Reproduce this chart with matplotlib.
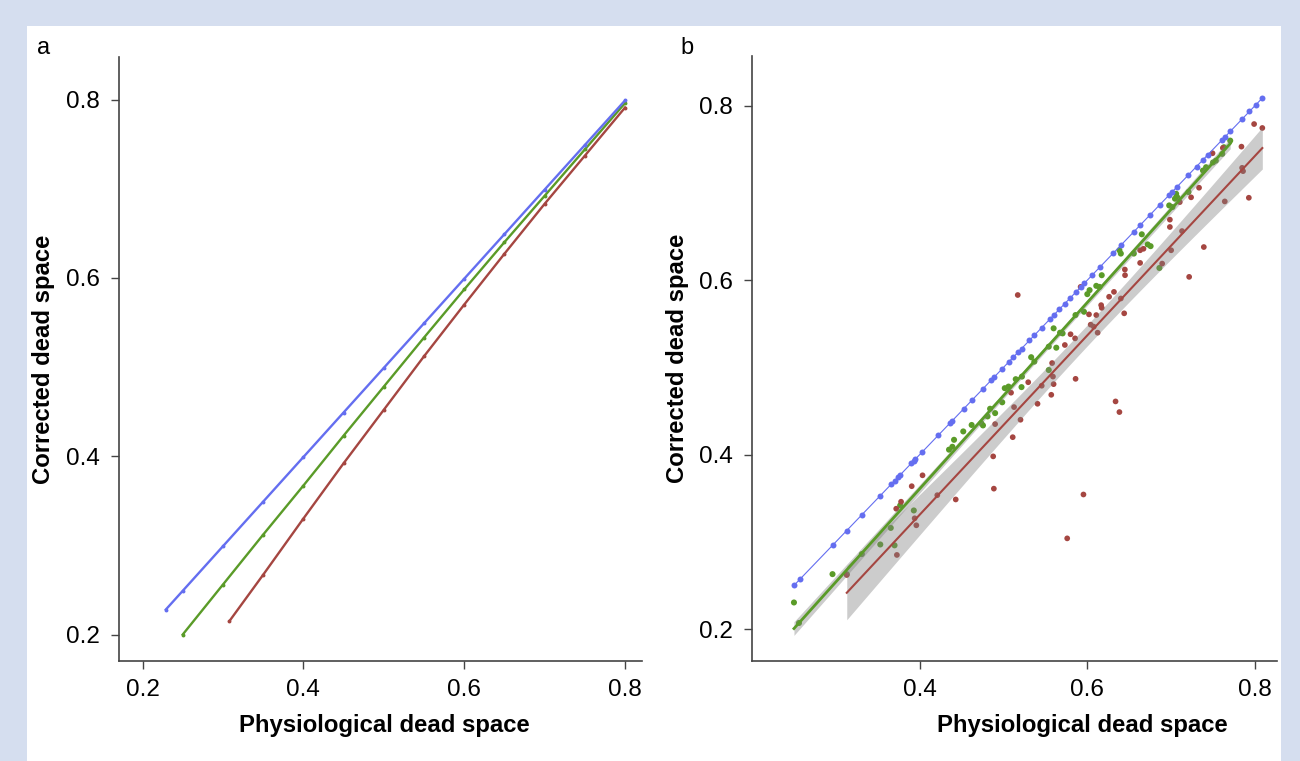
import numpy as np
import matplotlib
matplotlib.use("Agg")
import matplotlib.pyplot as plt
from matplotlib.patches import Rectangle

plt.rcParams['font.family'] = ['Liberation Sans', 'DejaVu Sans']

# panel a: model curves
blue_a_x = [0.229, 0.25, 0.30, 0.35, 0.40, 0.45, 0.50, 0.55, 0.60, 0.65, 0.70, 0.75, 0.80]
blue_a_y = [0.228, 0.249, 0.299, 0.349, 0.399, 0.449, 0.499, 0.549, 0.599, 0.649, 0.699, 0.749, 0.799]
green_a_x = [0.250, 0.30, 0.35, 0.40, 0.45, 0.50, 0.55, 0.60, 0.65, 0.70, 0.75, 0.80]
green_a_y = [0.200, 0.256, 0.312, 0.367, 0.423, 0.478, 0.533, 0.587, 0.640, 0.692, 0.744, 0.796]
red_a_x = [0.308, 0.35, 0.40, 0.45, 0.50, 0.55, 0.60, 0.65, 0.70, 0.75, 0.80]
red_a_y = [0.215, 0.267, 0.330, 0.392, 0.452, 0.512, 0.570, 0.627, 0.683, 0.737, 0.791]

# panel b: patient data
blue_b_x = [0.250, 0.257, 0.296, 0.313, 0.331, 0.353, 0.366, 0.370, 0.374, 0.377, 0.390, 0.393,
            0.395, 0.403, 0.422, 0.436, 0.439, 0.4525, 0.463, 0.4755, 0.485, 0.4886, 0.4985,
            0.506, 0.5115, 0.5176, 0.5215, 0.531, 0.5368, 0.5456, 0.556, 0.5598, 0.5667, 0.5732,
            0.579, 0.5866, 0.592, 0.5962, 0.6057, 0.6153, 0.6307, 0.6402, 0.6555, 0.6632, 0.6747,
            0.6862, 0.6977, 0.7015, 0.7073, 0.7207, 0.7303, 0.738, 0.7437, 0.761, 0.7641, 0.7705,
            0.7847, 0.7935, 0.8011, 0.8088]
blue_b_y = [0.250, 0.257, 0.296, 0.313, 0.331, 0.353, 0.366, 0.370, 0.374, 0.377, 0.390, 0.393,
            0.395, 0.403, 0.422, 0.436, 0.439, 0.4525, 0.463, 0.4755, 0.485, 0.4886, 0.4985,
            0.506, 0.5115, 0.5176, 0.5215, 0.531, 0.5368, 0.5456, 0.556, 0.5598, 0.5667, 0.5732,
            0.579, 0.5866, 0.592, 0.5962, 0.6057, 0.6153, 0.6307, 0.6402, 0.6555, 0.6632, 0.6747,
            0.6862, 0.6977, 0.7015, 0.7073, 0.7207, 0.7303, 0.738, 0.7437, 0.761, 0.7641, 0.7705,
            0.7847, 0.7935, 0.8011, 0.8088]

green_b_x = [0.250, 0.256, 0.296, 0.313, 0.331, 0.353, 0.3655, 0.370, 0.3767, 0.393, 0.435,
             0.439, 0.441, 0.452, 0.462, 0.4735, 0.4755, 0.481, 0.484, 0.490, 0.4985, 0.5015,
             0.506, 0.5146, 0.5215, 0.522, 0.533, 0.5368, 0.554, 0.563, 0.5598, 0.5675, 0.5705,
             0.554, 0.5859, 0.596, 0.600, 0.6027, 0.6107, 0.6146, 0.6172, 0.6383, 0.640, 0.6555,
             0.665, 0.672, 0.6755, 0.686, 0.6977, 0.7015, 0.706, 0.7046, 0.7073, 0.7207, 0.738,
             0.7417, 0.750, 0.7533, 0.761, 0.763, 0.7705]
green_b_y = [0.2305, 0.207, 0.263, 0.263, 0.286, 0.297, 0.316, 0.296, 0.3417, 0.336, 0.4057,
             0.409, 0.417, 0.4266, 0.434, 0.436, 0.4335, 0.4438, 0.4526, 0.4476, 0.460, 0.4762,
             0.478, 0.4865, 0.4774, 0.4895, 0.5117, 0.5066, 0.5238, 0.5226, 0.5448, 0.5398, 0.539,
             0.497, 0.560, 0.5638, 0.584, 0.5886, 0.5935, 0.5923, 0.6057, 0.6343, 0.6305, 0.6305,
             0.6526, 0.641, 0.639, 0.614, 0.6857, 0.6838, 0.699, 0.6934, 0.695, 0.701, 0.7257,
             0.7295, 0.735, 0.737, 0.7448, 0.7524, 0.760]

red_b_x = [0.313, 0.3728, 0.372, 0.3778, 0.3905, 0.4034, 0.394, 0.396, 0.421, 0.443, 0.4877,
           0.4885, 0.490, 0.511, 0.5126, 0.5203, 0.509, 0.517, 0.5295, 0.5406, 0.5456, 0.557,
           0.5598, 0.558, 0.559, 0.5732, 0.586, 0.580, 0.5854, 0.592, 0.602, 0.6107, 0.604,
           0.6077, 0.6123, 0.6165, 0.6172, 0.626, 0.6318, 0.644, 0.640, 0.6337, 0.6383, 0.5954,
           0.576, 0.6448, 0.645, 0.663, 0.663, 0.667, 0.6893, 0.700, 0.6985, 0.6985, 0.7103,
           0.7238, 0.7333, 0.713, 0.739, 0.7215, 0.7494, 0.7617, 0.764, 0.7839, 0.7847, 0.7858,
           0.7927, 0.799, 0.8088]
red_b_y = [0.262, 0.285, 0.338, 0.346, 0.3638, 0.3763, 0.327, 0.319, 0.3535, 0.3486, 0.398,
           0.361, 0.435, 0.420, 0.4545, 0.440, 0.471, 0.583, 0.483, 0.4583, 0.479, 0.4686,
           0.4808, 0.505, 0.4895, 0.5257, 0.4869, 0.538, 0.5333, 0.5923, 0.5608, 0.560, 0.549,
           0.5467, 0.5398, 0.5714, 0.5683, 0.581, 0.5866, 0.562, 0.579, 0.461, 0.4488, 0.3543,
           0.304, 0.6122, 0.6057, 0.6198, 0.6343, 0.636, 0.619, 0.6343, 0.6694, 0.661, 0.6895,
           0.695, 0.706, 0.6563, 0.638, 0.6038, 0.7455, 0.7516, 0.6903, 0.7531, 0.7288, 0.725,
           0.6945, 0.779, 0.7745]

c_blue = '#646ef0'
c_green = '#5a9b28'
c_red = '#a54641'
c_axis = '#444444'


def fit_band(ax, x, y, color, lw):
    x = np.asarray(x)
    y = np.asarray(y)
    slope, icpt = np.polyfit(x, y, 1)
    xs = np.linspace(x.min(), x.max(), 100)
    ys = icpt + slope * xs
    n = len(x)
    resid = y - (icpt + slope * x)
    s = np.sqrt(np.sum(resid ** 2) / (n - 2))
    sxx = np.sum((x - x.mean()) ** 2)
    half = 1.99 * s * np.sqrt(1.0 / n + (xs - x.mean()) ** 2 / sxx)
    ax.fill_between(xs, ys - half, ys + half, color='grey', alpha=0.4, lw=0, zorder=3)
    ax.plot(xs, ys, color=color, lw=lw, zorder=4)


def style(ax):
    for side in ['top', 'right']:
        ax.spines[side].set_visible(False)
    for side in ['left', 'bottom']:
        ax.spines[side].set_color(c_axis)
        ax.spines[side].set_linewidth(1.2)
    ax.tick_params(colors=c_axis, labelcolor='black', labelsize=17.5, length=6, width=1)
    ax.tick_params(axis='x', pad=7)
    ax.tick_params(axis='y', pad=8)
    ax.set_xticks([0.2, 0.4, 0.6, 0.8])
    ax.set_yticks([0.2, 0.4, 0.6, 0.8])
    ax.set_xlabel('Physiological dead space', fontsize=17.2, fontweight='bold')
    ax.set_ylabel('Corrected dead space', fontsize=17.2, fontweight='bold')


fig = plt.figure(figsize=(13, 7.61), dpi=100)
fig.patch.set_facecolor('#d5deef')
fig.add_artist(Rectangle((27 / 1300, 0), 1254 / 1300, 735 / 761, transform=fig.transFigure,
                         facecolor='white', edgecolor='none', zorder=-1))

# panel a
ax1 = fig.add_axes([0.0915, 0.1314, 0.4023, 0.7937])
ax1.set_facecolor('white')
ax1.plot(red_a_x, red_a_y, color=c_red, lw=1.7, marker='o', ms=1.8)
ax1.plot(green_a_x, green_a_y, color=c_green, lw=1.7, marker='o', ms=1.8)
ax1.plot(blue_a_x, blue_a_y, color=c_blue, lw=1.7, marker='o', ms=1.8)
ax1.set_xlim(0.1707, 0.821)
ax1.set_ylim(0.1703, 0.8477)
style(ax1)
ax1.xaxis.set_label_coords(0.507, -0.088)
ax1.yaxis.set_label_coords(-0.122, 0.5)

# panel b
ax2 = fig.add_axes([0.5785, 0.1314, 0.4038, 0.795])
ax2.set_facecolor('white')
ax2.plot(blue_b_x, blue_b_y, color=c_blue, lw=0.8, marker='o', ms=4.3, mec='none', zorder=5)
ax2.scatter(green_b_x, green_b_y, s=19, color=c_green, edgecolors='none', zorder=2)
fit_band(ax2, green_b_x, green_b_y, c_green, 2.0)
ax2.scatter(red_b_x, red_b_y, s=17, color=c_red, edgecolors='none', zorder=2)
fit_band(ax2, red_b_x, red_b_y, c_red, 1.5)
ax2.set_xlim(0.2263, 0.8263)
ax2.set_ylim(0.1634, 0.857)
style(ax2)
ax2.set_xticks([0.4, 0.6, 0.8])
ax2.xaxis.set_label_coords(0.63, -0.088)
ax2.yaxis.set_label_coords(-0.12, 0.5)

fig.text(37 / 1300, 1 - 48 / 761, 'a', fontsize=17, va='center', ha='left')
fig.text(680 / 1300, 1 - 48 / 761, 'b', fontsize=17, va='center', ha='left')

fig.savefig('out.png', dpi=100, facecolor=fig.get_facecolor())
